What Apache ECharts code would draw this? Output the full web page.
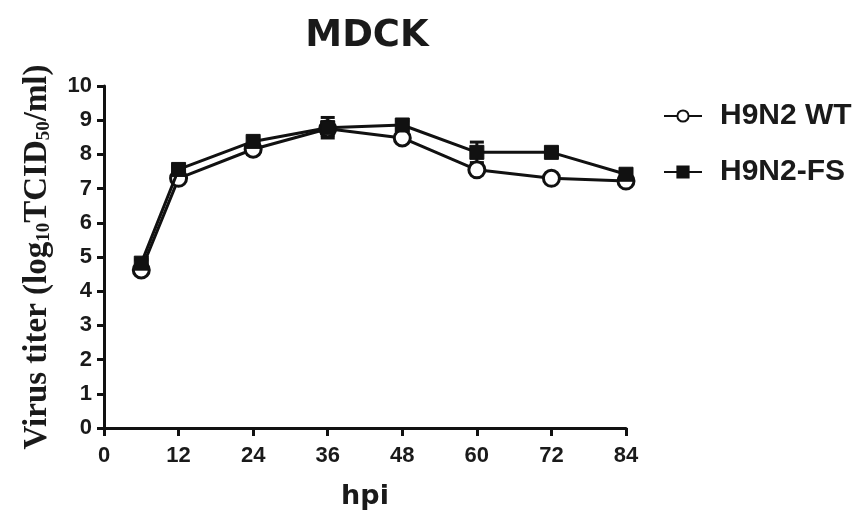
<!DOCTYPE html>
<html><head><meta charset="utf-8">
<script src="https://cdn.jsdelivr.net/npm/echarts@6/dist/echarts.min.js"></script>
<style>html,body{margin:0;padding:0;background:#fff}#c{width:863px;height:516px}</style>
</head><body><div id="c"></div>
<script>
const hours = [6, 12, 24, 36, 48, 60, 72, 84];
const wtMean = [4.62, 7.3, 8.15, 8.75, 8.48, 7.55, 7.3, 7.22];
const wtErr  = [0.1, 0.1, 0.15, 0.2, 0.1, 0.08, 0.08, 0.08];
const fsMean = [4.82, 7.56, 8.38, 8.78, 8.86, 8.06, 8.06, 7.42];
const fsErr  = [0.1, 0.08, 0.1, 0.3, 0.12, 0.3, 0.06, 0.1];
const xTicks = [0, 12, 24, 36, 48, 60, 72, 84];
const yTicks = [0, 1, 2, 3, 4, 5, 6, 7, 8, 9, 10];

const chart = echarts.init(document.getElementById('c'));
function pairs(m){ return hours.map((h,i)=>[h,m[i]]); }
function errData(m,e){ return hours.map((h,i)=>[h,m[i]-e[i],m[i]+e[i]]); }
function errSeries(m,e){
  return {
    type:'custom', silent:true, z:1,
    data: errData(m,e),
    renderItem:function(params, api){
      const x=api.value(0), lo=api.coord([x,api.value(1)]), hi=api.coord([x,api.value(2)]);
      const w=7;
      return {type:'group', children:[
        {type:'line', shape:{x1:lo[0],y1:lo[1],x2:hi[0],y2:hi[1]}, style:{stroke:'#111',lineWidth:3}},
        {type:'line', shape:{x1:lo[0]-w,y1:lo[1],x2:lo[0]+w,y2:lo[1]}, style:{stroke:'#111',lineWidth:3}},
        {type:'line', shape:{x1:hi[0]-w,y1:hi[1],x2:hi[0]+w,y2:hi[1]}, style:{stroke:'#111',lineWidth:3}}
      ]};
    }
  };
}
const lblFont = {fontFamily:'Liberation Sans, Arial', fontWeight:'bold', color:'#1a1a1a'};
chart.setOption({
  animation:false,
  title:{text:'MDCK', left:362, top:13, textAlign:'center',
    textStyle:{fontFamily:'DejaVu Sans', fontWeight:'bold', fontSize:37, color:'#1a1a1a'}},
  legend:{
    orient:'vertical', left:658, top:96, itemGap:26, itemWidth:38, itemHeight:14,
    data:['H9N2 WT','H9N2-FS'],
    textStyle:{fontFamily:'Liberation Sans, Arial', fontWeight:'bold', fontSize:30, color:'#1a1a1a', padding:[0,0,0,13]}
  },
  grid:{left:104, right:237, top:86, bottom:88, containLabel:false},
  xAxis:{
    type:'value', min:0, max:84, interval:12,
    name:'hpi', nameLocation:'middle', nameGap:55,
    nameTextStyle:{fontFamily:'DejaVu Sans', fontWeight:'bold', fontSize:27, color:'#1a1a1a'},
    axisLine:{lineStyle:{color:'#111', width:3}},
    axisTick:{show:true, length:8, lineStyle:{color:'#111', width:3}},
    axisLabel:Object.assign({fontSize:22, margin:17, formatter:v=>xTicks.includes(v)?String(v):''}, lblFont),
    splitLine:{show:false}
  },
  yAxis:{
    type:'value', min:0, max:10, interval:1,
    axisLine:{show:true, lineStyle:{color:'#111', width:3}},
    axisTick:{show:true, length:7, lineStyle:{color:'#111', width:3}},
    axisLabel:Object.assign({fontSize:22, margin:12, formatter:v=>yTicks.includes(v)?String(v):''}, lblFont),
    splitLine:{show:false}
  },
  graphic:[{
    type:'text', x:37, y:257, rotation:Math.PI/2,
    style:{
      text:'{a|Virus titer (log}{s|10}{a|TCID}{s|50}{a|/ml)}',
      align:'center', verticalAlign:'middle',
      rich:{
        a:{fontFamily:'Liberation Serif, Times New Roman', fontWeight:'bold', fontSize:33, fill:'#1a1a1a'},
        s:{fontFamily:'Liberation Serif, Times New Roman', fontWeight:'bold', fontSize:19, fill:'#1a1a1a', verticalAlign:'bottom', padding:[12,0,0,0]}
      }
    }
  }],
  series:[
    errSeries(wtMean, wtErr),
    errSeries(fsMean, fsErr),
    {name:'H9N2 WT', type:'line', data:pairs(wtMean), symbol:'circle', symbolSize:16, z:3,
      lineStyle:{color:'#111', width:3},
      itemStyle:{color:'#fff', borderColor:'#111', borderWidth:3}},
    {name:'H9N2-FS', type:'line', data:pairs(fsMean), symbol:'rect', symbolSize:14, z:4,
      lineStyle:{color:'#111', width:3},
      itemStyle:{color:'#111', borderColor:'#111', borderWidth:1}}
  ]
});
</script></body></html>
